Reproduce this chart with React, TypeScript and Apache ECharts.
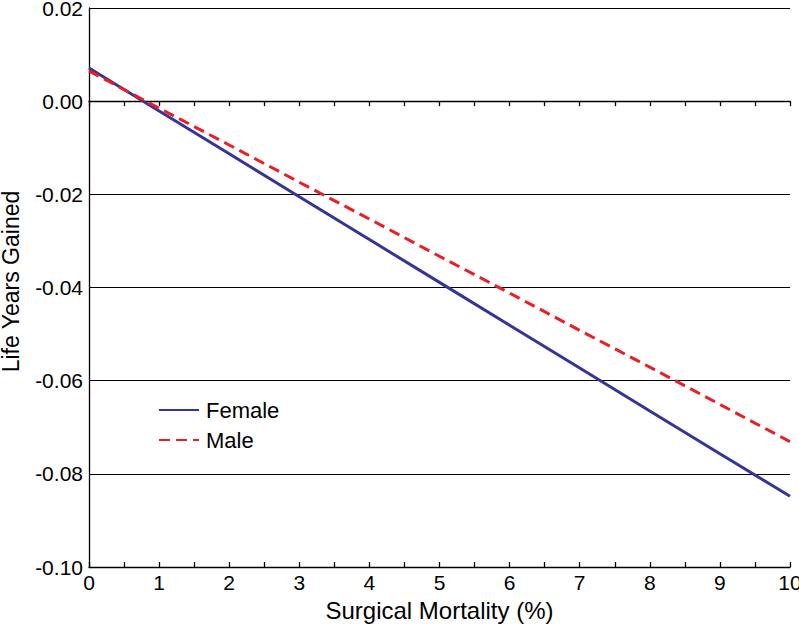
import React, { useEffect, useRef } from "react";
import * as echarts from "echarts";

const mortality = [0, 1, 2, 3, 4, 5, 6, 7, 8, 9, 10];
const female = [0.0071, -0.0021, -0.0113, -0.0205, -0.0297, -0.0389, -0.0481, -0.0573, -0.0665, -0.0757, -0.0848];
const male = [0.0065, -0.0015, -0.0094, -0.0174, -0.0253, -0.0333, -0.0412, -0.0492, -0.0571, -0.0651, -0.0731];
const yTicks = [-0.1, -0.08, -0.06, -0.04, -0.02, 0, 0.02];

export default function App() {
  const ref = useRef<HTMLDivElement>(null);
  useEffect(() => {
    const chart = echarts.init(ref.current!, null, { renderer: "svg" });
    const font = "Liberation Sans, Arial, sans-serif";
    const xBase = {
      type: "value",
      min: 0,
      max: 10,
      interval: 0.5,
      position: "bottom",
      axisLine: { show: true, lineStyle: { color: "#000", width: 1.3 } },
      splitLine: { show: false },
    };
    chart.setOption({
      animation: false,
      backgroundColor: "#fff",
      grid: { left: 89, right: 9, top: 8, bottom: 64, containLabel: false, outerBoundsMode: "none" },
      legend: {
        left: 153,
        top: 394,
        orient: "vertical",
        itemWidth: 40,
        itemHeight: 14,
        itemGap: 8,
        textStyle: { fontFamily: font, fontSize: 22, color: "#000", padding: [0, 0, 0, 2] },
        itemStyle: { opacity: 0 },
        data: ["Female", "Male"],
      },
      xAxis: [
        {
          ...xBase,
          name: "Surgical Mortality (%)",
          nameLocation: "middle",
          nameGap: 31,
          nameTextStyle: { fontFamily: font, fontSize: 24, color: "#000" },
          axisTick: { show: true, inside: false, length: 5, lineStyle: { color: "#000", width: 1.3 } },
          axisLabel: {
            fontFamily: font,
            fontSize: 21,
            color: "#000",
            margin: 5,
            formatter: (v: number) => (Number.isInteger(v) ? String(v) : ""),
          },
        },
        {
          ...xBase,
          axisTick: { show: true, inside: true, length: 5, lineStyle: { color: "#000", width: 1.3 } },
          axisLabel: { show: false },
        },
      ],
      yAxis: {
        type: "value",
        min: yTicks[0],
        max: yTicks[yTicks.length - 1],
        interval: 0.02,
        name: "Life Years Gained",
        nameLocation: "middle",
        nameGap: 67,
        nameTextStyle: { fontFamily: font, fontSize: 23, color: "#000", padding: [0, 0, 0, 12] },
        axisLine: { show: true, lineStyle: { color: "#000", width: 1.3 } },
        axisTick: { show: false },
        axisLabel: {
          fontFamily: font,
          fontSize: 21,
          lineHeight: 14,
          color: "#000",
          margin: 6,
          formatter: (v: number) => v.toFixed(2),
        },
        splitLine: { show: true, lineStyle: { color: "#000", width: 1 } },
      },
      series: [
        {
          name: "Female",
          type: "line",
          symbol: "none",
          data: mortality.map((m, i) => [m, female[i]]),
          lineStyle: { color: "#35349a", width: 3 },
          itemStyle: { color: "#35349a" },
          z: 3,
        },
        {
          name: "Male",
          type: "line",
          symbol: "none",
          data: mortality.map((m, i) => [m, male[i]]),
          lineStyle: { color: "#ee1c24", width: 3, type: [11, 6] },
          itemStyle: { color: "#ee1c24" },
          z: 4,
        },
      ],
    });
    return () => chart.dispose();
  }, []);
  return <div ref={ref} style={{ width: 799, height: 631, position: "absolute", left: 0, top: 0 }} />;
}
